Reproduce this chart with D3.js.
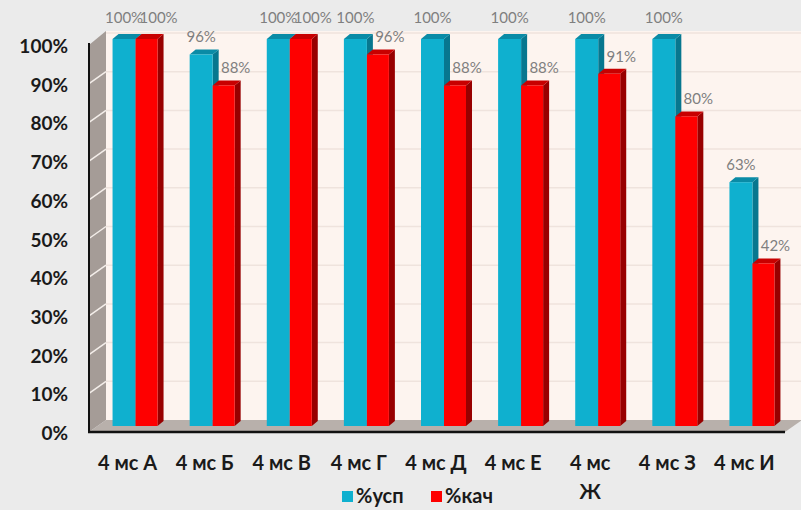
<!DOCTYPE html>
<html>
<head>
<meta charset="utf-8">
<script src="https://cdn.jsdelivr.net/npm/d3@7"></script>
<style>
  body { margin: 0; background: #ebebeb; }
  text { font-family: Lato, "Open Sans", sans-serif; }
</style>
</head>
<body>
<div id="app"></div>
<script>
const categories = ["4 мс А", "4 мс Б", "4 мс В", "4 мс Г", "4 мс Д", "4 мс Е", "4 мс Ж", "4 мс З", "4 мс И"];
const uspValues = [100, 96, 100, 100, 100, 100, 100, 100, 63];
const kachValues = [100, 88, 100, 96, 88, 88, 91, 80, 42];
const seriesNames = ["%усп", "%кач"];
const yTicks = [0, 10, 20, 30, 40, 50, 60, 70, 80, 90, 100];

const w = 801, h = 510;
const dx = 17, dy = -12;     // depth of the chart box
const bdx = 6, bdy = -5;     // depth of one bar

const svg = d3.select("#app").append("svg")
    .attr("width", w)
    .attr("height", h)
    .style("display", "block")
    .style("background-color", "#ebebeb");

const xScale = d3.scaleBand().domain(categories).range([89, 783]);
const yScale = d3.scaleLinear().domain([0, 100]).range([432, 45]);

// walls
svg.append("rect")
    .attr("x", 89 + dx).attr("y", yScale(100) + dy - 2)
    .attr("width", w - 89 - dx).attr("height", yScale(0) - yScale(100) + 2)
    .attr("fill", "#fdf4ef");

svg.append("polygon")
    .attr("points", [[89, yScale(0)], [89, yScale(100)], [89 + dx, yScale(100) + dy - 2], [89 + dx, yScale(0) + dy]].join(" "))
    .attr("fill", "#a59c97");

svg.append("polygon")
    .attr("points", [[89, yScale(0)], [785, yScale(0)], [785 + dx, yScale(0) + dy], [89 + dx, yScale(0) + dy]].join(" "))
    .attr("fill", "#b8b0ab");

svg.selectAll(".grid")
    .data(yTicks.slice(1))
    .enter().append("line")
    .attr("x1", 89 + dx).attr("x2", w)
    .attr("y1", d => yScale(d) + dy).attr("y2", d => yScale(d) + dy)
    .attr("stroke", "#efe3dd").attr("stroke-width", 1.5);

svg.selectAll(".sidegrid")
    .data(yTicks.slice(1, -1))
    .enter().append("line")
    .attr("x1", 89).attr("x2", 89 + dx)
    .attr("y1", d => yScale(d)).attr("y2", d => yScale(d) + dy)
    .attr("stroke", "#f4eeea").attr("stroke-width", 1.5);

// bars
const series = [
    {name: seriesNames[0], values: uspValues, off: -15, bw: 23, front: "#0fb0cf", top: "#0a8ba6", side: "#07778f", lab: 0},
    {name: seriesNames[1], values: kachValues, off: 8, bw: 22, front: "#fe0000", top: "#c80000", side: "#980000", lab: 12}
];

function bar(g, x0, bw, v, s) {
    const y = yScale(v) + dy / 2;
    const b = yScale(0) + dy / 2;
    const x1 = x0 + bw;
    g.append("polygon")
        .attr("points", [[x1, y], [x1 + bdx, y + bdy], [x1 + bdx, b + bdy], [x1, b]].join(" "))
        .attr("fill", s.side);
    g.append("polygon")
        .attr("points", [[x0, y], [x1, y], [x1 + bdx, y + bdy], [x0 + bdx, y + bdy]].join(" "))
        .attr("fill", s.top);
    g.append("rect")
        .attr("x", x0).attr("y", y).attr("width", bw).attr("height", b - y)
        .attr("fill", s.front);
}

categories.forEach((c, i) => {
    const cx = xScale(c) + xScale.bandwidth() / 2;
    const g = svg.append("g");
    series.forEach(s => bar(g, cx + s.off, s.bw, s.values[i], s));
});

// value labels
series.forEach(s => {
    svg.selectAll(null)
        .data(categories)
        .enter().append("text")
        .attr("x", (c) => xScale(c) + xScale.bandwidth() / 2 + s.off + s.bw / 2 + s.lab)
        .attr("y", (c, i) => yScale(s.values[i]) + dy / 2 - (s.values[i] === 100 ? 16 : 12))
        .attr("text-anchor", "middle")
        .attr("fill", "#7f7f7f")
        .style("font-size", "15px")
        .text((c, i) => s.values[i] + "%");
});

// axes
svg.append("line")
    .attr("x1", 89).attr("x2", 89).attr("y1", yScale(100) - 2).attr("y2", yScale(0) + 1)
    .attr("stroke", "#111").attr("stroke-width", 2);
svg.append("line")
    .attr("x1", 88).attr("x2", 785).attr("y1", yScale(0)).attr("y2", yScale(0))
    .attr("stroke", "#111").attr("stroke-width", 2.5);

svg.selectAll(".ytick")
    .data(yTicks)
    .enter().append("text")
    .attr("x", 68)
    .attr("y", d => yScale(d) + 8)
    .attr("text-anchor", "end")
    .attr("fill", "#1a1a1a")
    .style("font-size", "19px")
    .style("font-weight", "bold")
    .text(d => d + "%");

const xl = svg.selectAll(".xtick")
    .data(categories)
    .enter().append("text")
    .attr("x", c => xScale(c) + xScale.bandwidth() / 2)
    .attr("y", 470)
    .attr("text-anchor", "middle")
    .attr("fill", "#1a1a1a")
    .style("font-size", "20px")
    .style("font-weight", "bold")
    .text(c => c);

// wrap labels that don't fit
xl.each(function(c) {
    const t = d3.select(this);
    if (this.getComputedTextLength() > xScale.bandwidth() * 0.85) {
        const words = c.split(" ");
        const last = words.pop();
        t.text(null);
        t.append("tspan").attr("x", t.attr("x")).text(words.join(" "));
        t.append("tspan").attr("x", t.attr("x")).attr("dy", 29).text(last);
    }
});

// legend
const legend = svg.append("g").attr("transform", "translate(342,503)");
seriesNames.forEach((n, i) => {
    const lg = legend.append("g").attr("transform", "translate(" + (i * 89) + ",0)");
    lg.append("rect")
        .attr("x", 0).attr("y", -12).attr("width", 11).attr("height", 11)
        .attr("fill", series[i].front);
    lg.append("text")
        .attr("x", 14).attr("y", 0)
        .attr("fill", "#1a1a1a")
        .style("font-size", "20px")
        .style("font-weight", "bold")
        .text(n);
});
</script>
</body>
</html>
